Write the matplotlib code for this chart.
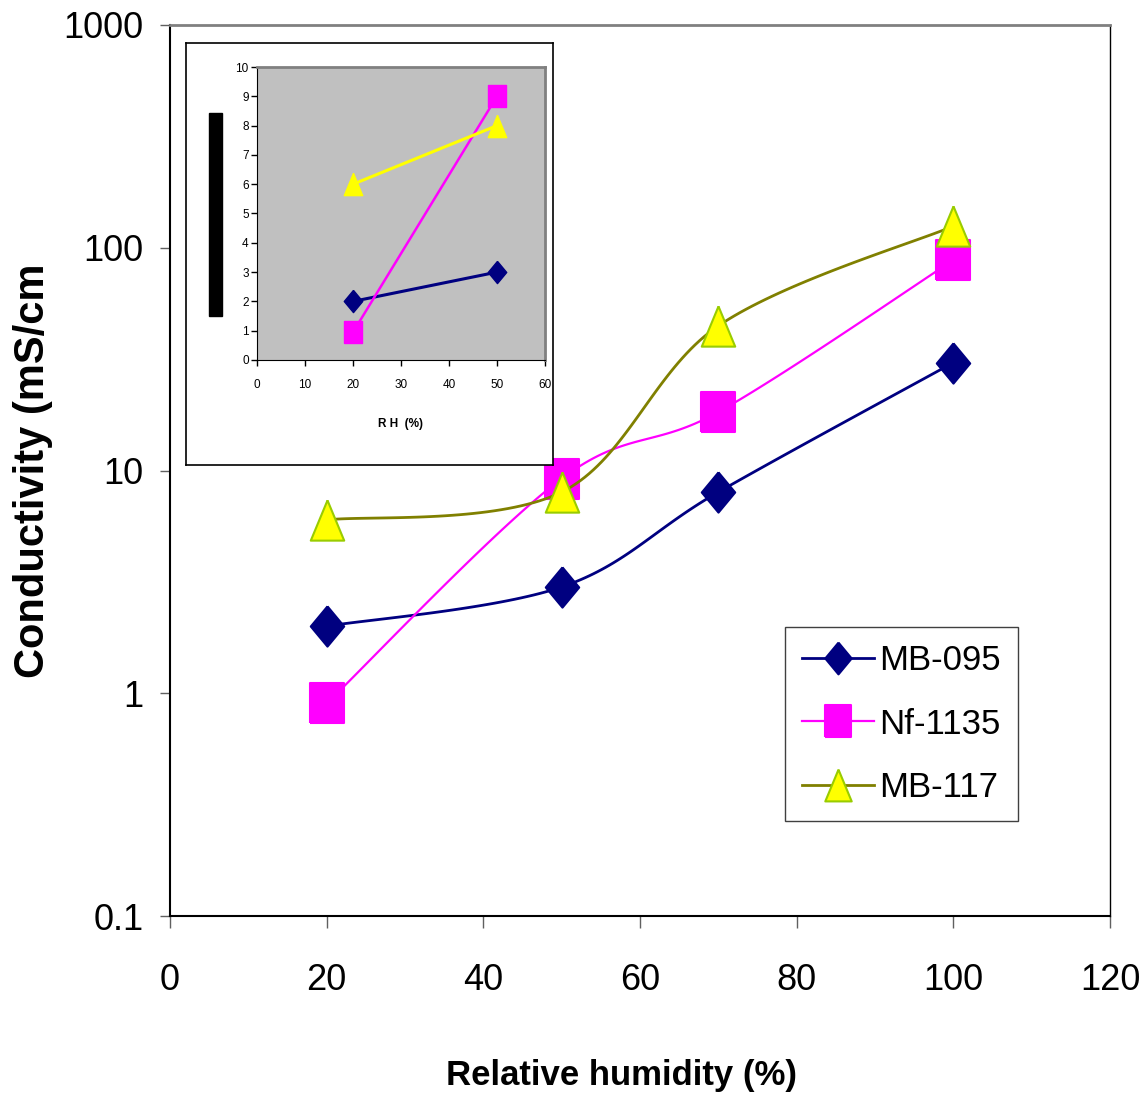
#Conductivity vs relative humidity, log scale with a linear inset
import numpy as np
import matplotlib
matplotlib.use("Agg")
import matplotlib.pyplot as plt
from matplotlib.patches import Rectangle
from matplotlib.ticker import NullLocator

plt.rcParams['font.family'] = ['Liberation Sans', 'DejaVu Sans']

#Main chart data
rh = [20, 50, 70, 100]
mb095 = [2, 3, 8, 30.5]
nf1135 = [0.9, 9.2, 18.3, 88]
mb117 = [6, 8, 44.6, 125]

#Inset data (linear scale)
rh_inset = [20, 50]
mb095_inset = [2, 3]
nf1135_inset = [0.95, 9]
mb117_inset = [6, 8]

x_ticks = [0, 20, 40, 60, 80, 100, 120]
y_ticks = [0.1, 1, 10, 100, 1000]
y_tick_labels = ['0.1', '1', '10', '100', '1000']


#Excel style smoothed line: bezier through the points, done in (x, log y)
def smooth_log(xs, ys, n=40):
  px = np.array(xs, dtype=float)
  py = np.log10(np.array(ys, dtype=float))
  out_x, out_y = [], []
  for i in range(len(px) - 1):
    i0 = max(i - 1, 0)
    i3 = min(i + 2, len(px) - 1)
    c1x = px[i] + (px[i + 1] - px[i0]) / 6
    c1y = py[i] + (py[i + 1] - py[i0]) / 6
    c2x = px[i + 1] - (px[i3] - px[i]) / 6
    c2y = py[i + 1] - (py[i3] - py[i]) / 6
    t = np.linspace(0, 1, n)
    a, b, c, d = (1 - t) ** 3, 3 * (1 - t) ** 2 * t, 3 * (1 - t) * t ** 2, t ** 3
    out_x.extend(a * px[i] + b * c1x + c * c2x + d * px[i + 1])
    out_y.extend(a * py[i] + b * c1y + c * c2y + d * py[i + 1])
  return np.array(out_x), 10 ** np.array(out_y)


#Marker shapes, a little taller than wide like the original
diamond = [(0, 1), (0.83, 0), (0, -1), (-0.83, 0), (0, 1)]
square = [(-0.82, -1), (0.82, -1), (0.82, 1), (-0.82, 1), (-0.82, -1)]
triangle = [(0, 1), (0.83, -1), (-0.83, -1), (0, 1)]

series = [
  ('MB-095', mb095, '#000080', diamond, '#000080', '#000080', 2.0),
  ('Nf-1135', nf1135, '#FF00FF', square, '#FF00FF', '#FF00FF', 1.6),
  ('MB-117', mb117, '#808000', triangle, '#FFFF00', '#99CC00', 2.0),
]

fig = plt.figure(figsize=(11.42, 10.96), dpi=100)
ax = fig.add_axes([170 / 1142, 1 - 916 / 1096, 940 / 1142, 891 / 1096])

handles = []
for name, values, color, marker, face, edge, lw in series:
  sx, sy = smooth_log(rh, values)
  ax.plot(sx, sy, color=color, lw=lw)
  ax.plot(rh, values, linestyle='none', marker=marker, markersize=29,
          markerfacecolor=face, markeredgecolor=edge, markeredgewidth=1.5)
  h, = ax.plot([], [], color=color, lw=lw, marker=marker, markersize=29,
               markerfacecolor=face, markeredgecolor=edge, markeredgewidth=1.5)
  handles.append((h, name))

ax.set_yscale('log')
ax.set_xlim(0, 120)
ax.set_ylim(0.1, 1000)
ax.set_xticks(x_ticks)
ax.set_xticklabels([str(v) for v in x_ticks])
ax.set_yticks(y_ticks)
ax.set_yticklabels(y_tick_labels)
ax.yaxis.set_minor_locator(NullLocator())
ax.tick_params(axis='both', labelsize=26, color='#606060', width=1)
ax.tick_params(axis='y', direction='out', length=7, pad=12)
ax.tick_params(axis='x', direction='out', length=8.5, pad=25)
ax.spines['left'].set_linewidth(1.5)
ax.spines['bottom'].set_linewidth(1.5)
ax.spines['top'].set_color('#808080')
ax.spines['top'].set_linewidth(2)
ax.spines['right'].set_linewidth(1)

leg = ax.legend([h for h, _ in handles], [n for _, n in handles],
                loc='upper left', bbox_to_anchor=(785 / 1142, 1 - 627 / 1096),
                bbox_transform=fig.transFigure, borderaxespad=0, fontsize=25,
                markerscale=0.79, handlelength=2.05, handletextpad=0.15,
                labelspacing=0.87, borderpad=0.5, fancybox=False, framealpha=1)
leg.get_frame().set_edgecolor('#404040')
leg.get_frame().set_linewidth(1)

fig.text(621 / 1142, 1 - 1075 / 1096, 'Relative humidity (%)', fontsize=25,
         fontweight='bold', ha='center', va='center')
fig.text(33 / 1142, 1 - 471 / 1096, 'Conductivity (mS/cm', fontsize=30,
         fontweight='bold', rotation=90, ha='center', va='center')

#Inset: white framed box with a gray plot area
frame = fig.add_axes([186 / 1142, 1 - 465 / 1096, 367 / 1142, 422 / 1096])
frame.set_xticks([])
frame.set_yticks([])
for s in frame.spines.values():
  s.set_linewidth(1.2)
fig.add_artist(Rectangle((209 / 1142, 1 - 316 / 1096), 13 / 1142, 203 / 1096,
                         transform=fig.transFigure, color='black'))

inset = fig.add_axes([257 / 1142, 1 - 360 / 1096, 288 / 1142, 293 / 1096])
inset.set_facecolor('#C0C0C0')
inset_series = [
  (mb095_inset, '#000080', diamond, '#000080', 2.2),
  (nf1135_inset, '#FF00FF', square, '#FF00FF', 1.8),
  (mb117_inset, '#FFFF00', triangle, '#FFFF00', 2.2),
]
for values, color, marker, face, lw in inset_series:
  inset.plot(rh_inset, values, color=color, lw=lw, marker=marker, markersize=16,
             markerfacecolor=face, markeredgecolor=face)
inset.set_xlim(0, 60)
inset.set_ylim(0, 10)
inset.set_xticks(range(0, 61, 10))
inset.set_yticks(range(0, 11))
inset.tick_params(axis='both', labelsize=8.5, length=4, width=1, direction='out')
inset.tick_params(axis='x', pad=10)
inset.tick_params(axis='y', pad=2)
inset.spines['top'].set_color('#808080')
inset.spines['top'].set_linewidth(2)
inset.spines['right'].set_color('#808080')
inset.spines['right'].set_linewidth(2)
inset.set_xlabel('R H  (%)', fontsize=8.5, fontweight='bold', labelpad=19)

fig.savefig('out.png', dpi=100)
